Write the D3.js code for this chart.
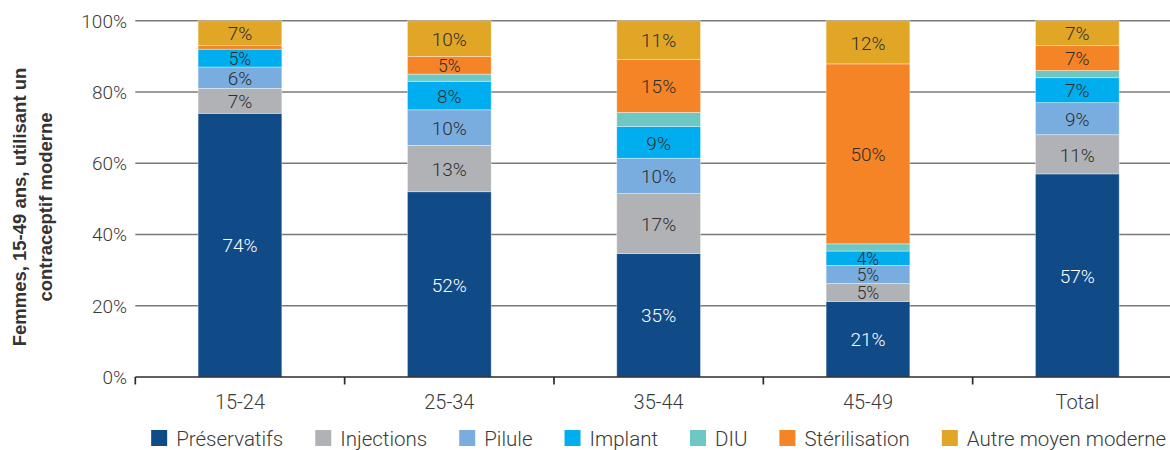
<!DOCTYPE html>
<html lang="fr">
<head>
<meta charset="utf-8">
<script src="https://cdn.jsdelivr.net/npm/d3@7"></script>
<style>
  html, body { margin: 0; padding: 0; background: #fff; }
  svg { display: block; }
  .lbl { font-family: Roboto, "Noto Sans", sans-serif; font-weight: 300; }
</style>
</head>
<body>
<svg id="chart" width="1170" height="450"></svg>
<script>
// Age groups on the x axis
const categories = ["15-24", "25-34", "35-44", "45-49", "Total"];

// Method names, bottom of each stack first
const methods = ["Préservatifs", "Injections", "Pilule", "Implant", "DIU", "Stérilisation", "Autre moyen moderne"];

// Share of women using each method (%), one value per age group
const preservatifs  = [74, 52, 35, 21, 57];
const injections    = [7, 13, 17, 5, 11];
const pilule        = [6, 10, 10, 5, 9];
const implant       = [5, 8, 9, 4, 7];
const diu           = [0, 2, 4, 2, 2];
const sterilisation = [1, 5, 15, 50, 7];
const autre         = [7, 10, 11, 12, 7];

const yTicks = [0, 0.2, 0.4, 0.6, 0.8, 1];

const colors = ["#104b88", "#b1b2b5", "#7aaddf", "#00adee", "#6dc8c4", "#f58427", "#e2a626"];
const seriesValues = [preservatifs, injections, pilule, implant, diu, sterilisation, autre];

// Build rows for d3.stack
const rows = categories.map((c, i) => {
  const r = { cat: c };
  methods.forEach((m, j) => { r[m] = seriesValues[j][i]; });
  return r;
});

const stack = d3.stack().keys(methods).offset(d3.stackOffsetExpand);
const layers = stack(rows);

const svg = d3.select("#chart");
const plotLeft = 135.3, plotRight = 1182, plotTop = 20.7, plotBottom = 377;

const xSlot = d3.scaleBand().domain(categories).range([plotLeft, plotRight]).padding(0);
const x = d3.scaleBand().domain(categories).range([plotLeft, plotRight]).paddingInner(0.6).paddingOuter(0.3);
const y = d3.scaleLinear().domain([0, 1]).range([plotBottom, plotTop]);

// Horizontal grid
svg.append("g")
  .selectAll("line")
  .data(yTicks.filter(t => t > 0))
  .join("line")
  .attr("x1", plotLeft).attr("x2", 1170)
  .attr("y1", d => y(d)).attr("y2", d => y(d))
  .attr("stroke", "#7a7a7a").attr("stroke-width", 1.6);

// Y tick labels
svg.append("g")
  .selectAll("text")
  .data(yTicks)
  .join("text")
  .attr("class", "lbl")
  .attr("x", 127).attr("y", d => y(d)).attr("dy", "0.36em")
  .attr("text-anchor", "end")
  .attr("font-size", 19).attr("fill", "#3a3a3a")
  .text(d => d3.format(".0%")(d));

// Stacked bars
const g = svg.append("g");
layers.forEach((layer, j) => {
  g.append("g")
    .attr("fill", colors[j])
    .selectAll("rect")
    .data(layer)
    .join("rect")
    .attr("x", d => x(d.data.cat))
    .attr("width", x.bandwidth())
    .attr("y", d => y(d[1]))
    .attr("height", d => Math.max(0, y(d[0]) - y(d[1])))
    .attr("stroke", "rgba(255,255,255,0.45)")
    .attr("stroke-width", 0.8);
});

// Value labels inside segments (not for DIU, not for tiny slices)
layers.forEach((layer, j) => {
  if (methods[j] === "DIU") return;
  g.append("g")
    .selectAll("text")
    .data(layer.filter(d => d.data[methods[j]] >= 3))
    .join("text")
    .attr("class", "lbl")
    .attr("x", d => x(d.data.cat) + x.bandwidth() / 2)
    .attr("y", d => (y(d[0]) + y(d[1])) / 2)
    .attr("dy", "0.38em")
    .attr("text-anchor", "middle")
    .attr("font-size", d => (y(d[0]) - y(d[1])) < 20 ? 17.5 : 19)
    .attr("fill", j === 0 ? "#ffffff" : "#2e2e2e")
    .text(d => d.data[methods[j]] + "%");
});

// X axis: baseline, ticks between groups, labels centred
const xAxis = svg.append("g");
xAxis.append("line")
  .attr("x1", plotLeft).attr("x2", 1170)
  .attr("y1", plotBottom).attr("y2", plotBottom)
  .attr("stroke", "#2b2b2b").attr("stroke-width", 1.7);
xAxis.selectAll("line.tick")
  .data(categories)
  .join("line")
  .attr("class", "tick")
  .attr("x1", d => xSlot(d)).attr("x2", d => xSlot(d))
  .attr("y1", plotBottom).attr("y2", plotBottom + 7.5)
  .attr("stroke", "#2b2b2b").attr("stroke-width", 1.7);
xAxis.selectAll("text")
  .data(categories)
  .join("text")
  .attr("class", "lbl")
  .attr("x", d => x(d) + x.bandwidth() / 2)
  .attr("y", 409)
  .attr("text-anchor", "middle")
  .attr("font-size", 20).attr("fill", "#3a3a3a")
  .text(d => d);

// Y axis title
const title = svg.append("text")
  .attr("transform", "translate(0,207) rotate(-90)")
  .attr("text-anchor", "middle")
  .attr("font-family", "'Liberation Sans', Arial, sans-serif")
  .attr("font-weight", 700)
  .attr("font-size", 18.5)
  .attr("fill", "#333");
title.append("tspan").attr("x", 0).attr("y", 26).text("Femmes, 15-49 ans, utilisant un");
title.append("tspan").attr("x", 0).attr("y", 52).text("contraceptif moderne");

// Legend, centred under the plot
const legend = svg.append("g");
const sw = 16, gapText = 9, gapItem = 32;
const items = legend.selectAll("g")
  .data(methods)
  .join("g");
items.append("rect")
  .attr("width", sw).attr("height", sw)
  .attr("y", 430)
  .attr("fill", (d, i) => colors[i]);
items.append("text")
  .attr("class", "lbl")
  .attr("x", sw + gapText).attr("y", 446)
  .attr("font-size", 20.5).attr("fill", "#3a3a3a")
  .text(d => d);
let widths = [];
items.each(function () { widths.push(this.getBBox().width); });
const total = d3.sum(widths) + gapItem * (widths.length - 1);
let cx = (plotLeft + plotRight) / 2 - total / 2;
items.attr("transform", (d, i) => {
  const t = `translate(${cx},0)`;
  cx += widths[i] + gapItem;
  return t;
});
</script>
</body>
</html>
